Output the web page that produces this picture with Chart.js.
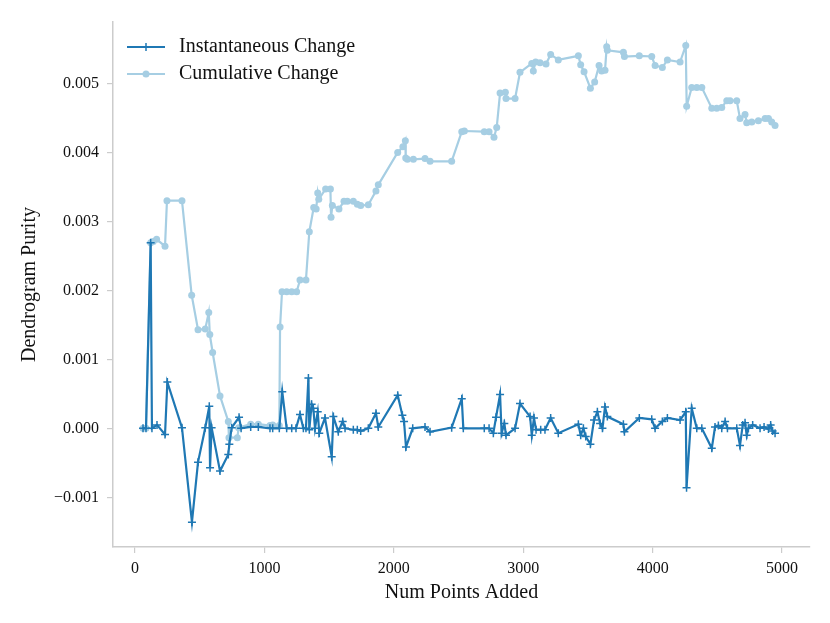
<!DOCTYPE html>
<html>
<head>
<meta charset="utf-8">
<script src="https://cdn.jsdelivr.net/npm/chart.js@4"></script>
<style>
  html, body { margin: 0; padding: 0; background: #fff; }
  #wrap { width: 830px; height: 623px; }
</style>
</head>
<body>
<div id="wrap"><canvas id="purityChart"></canvas></div>
<script>
// Instantaneous change in dendrogram purity
const instX = [62, 85, 121, 131, 170, 232, 250, 363, 440, 487, 543, 574, 580, 592, 657, 721, 729, 747, 804, 820,
  894, 953, 1043, 1064, 1115, 1138, 1172, 1211, 1244, 1275, 1301, 1321, 1340, 1347, 1365, 1378, 1391, 1412, 1424,
  1468, 1520, 1533, 1571, 1605, 1623, 1687, 1718, 1744, 1803, 1862, 1880, 2030, 2066, 2079, 2094, 2146, 2241, 2280,
  2447, 2525, 2537, 2699, 2736, 2769, 2790, 2821, 2833, 2854, 2867, 2937, 2975, 3053, 3066, 3083, 3099, 3135, 3168,
  3212, 3271, 3426, 3444, 3465, 3483, 3519, 3547, 3573, 3594, 3612, 3632, 3650, 3774, 3782, 3897, 3993, 4019, 4075,
  4114, 4212, 4256, 4262, 4302, 4341, 4380, 4457, 4482, 4508, 4534, 4560, 4578, 4650, 4675, 4696, 4714, 4727, 4740,
  4773, 4830, 4861, 4895, 4912, 4927, 4946];
const instY = [0, 0, 0.00269, 0, 0.00005, -0.00009, 0.00067, 0.00001, -0.00136, -0.00049, 0.00001, 0.00032, -0.00057, 0.00001, -0.00062, -0.00038, -0.00023, 0.00001, 0.00016, 0,
  0.00002, 0.00002, 0, 0, 0, 0.00053, 0, 0, 0, 0.0002, 0, 0, 0.00073, -0.00002, 0.00035, 0.00029, 0, 0.00024, -0.00007,
  0.00015, -0.00041, 0.00017, -0.00005, 0.0001, 0, -0.00002, -0.00002, -0.00004, 0, 0.00022, 0.00002, 0.00048, 0.00019, 0.0001, -0.00027, 0, 0.00002, -0.00005,
  0.00001, 0.00043, 0, 0, 0, -0.00007, 0.00016, 0.00049, -0.00007, 0.00007, -0.0001, 0, 0.00036, 0.00017, -0.0001, 0.00015, -0.00002, -0.00002, -0.00002,
  0.00015, -0.00007, 0.00006, -0.0001, 0, -0.00012, -0.00023, 0.00012, 0.00024, 0.00007, 0, 0.00031, 0.00017, 0.00006, -0.00005, 0.00015, 0.00013, 0, 0.0001,
  0.00015, 0.00012, 0.00024, -0.00086, 0.00029, 0, 0, -0.00029, 0.00002, 0.00004, 0, 0.0001, 0, 0, -0.00025, 0.00005, 0.00008, -0.0001, 0,
  0.00005, 0, 0.00002, -0.00001, 0.00005, -0.00004, -0.00007];

// Cumulative change in dendrogram purity
const cumX = [62, 85, 121, 141, 167, 232, 247, 363, 438, 487, 543, 570, 578, 600, 657, 721, 726, 791, 801, 894,
  953, 1043, 1064, 1115, 1121, 1136, 1172, 1211, 1249, 1275, 1321, 1347, 1381, 1400, 1412, 1420, 1473, 1510, 1515,
  1525, 1576, 1615, 1641, 1687, 1718, 1744, 1803, 1862, 1880, 2030, 2070, 2089, 2092, 2105, 2151, 2241, 2280, 2447,
  2525, 2545, 2699, 2736, 2774, 2795, 2821, 2862, 2867, 2937, 2975, 3066, 3078, 3096, 3130, 3176, 3212, 3271, 3426,
  3444, 3470, 3519, 3552, 3586, 3606, 3632, 3645, 3650, 3774, 3782, 3897, 3993, 4019, 4075, 4114, 4212, 4256, 4263,
  4302, 4341, 4380, 4457, 4495, 4534, 4573, 4598, 4650, 4675, 4714, 4727, 4766, 4817, 4869, 4895, 4920, 4946];
const cumY = [0, 0, 0.00269, 0.00271, 0.00274, 0.00264, 0.0033, 0.0033, 0.00193, 0.00143, 0.00144, 0.00168, 0.00136, 0.0011, 0.00047, 0.0001, -0.000135, -0.000135, 0.00001, 0.00006,
  0.00006, 0.00004, 0.00005, 0.00004, 0.00147, 0.00198, 0.00198, 0.00198, 0.00198, 0.00215, 0.00215, 0.00285, 0.0032, 0.00318, 0.00341, 0.00332, 0.00347, 0.00347, 0.00306,
  0.00323, 0.00318, 0.00329, 0.00329, 0.00329, 0.00325, 0.00323, 0.00324, 0.00344, 0.00353, 0.004, 0.00408, 0.00417, 0.00392, 0.0039, 0.0039, 0.00391, 0.00387, 0.00387,
  0.0043, 0.00431, 0.0043, 0.0043, 0.00422, 0.00436, 0.00486, 0.00487, 0.00478, 0.00478, 0.00516, 0.00529, 0.00518, 0.00531, 0.0053, 0.00528, 0.00542, 0.00534, 0.0054,
  0.00527, 0.00517, 0.00493, 0.00502, 0.00526, 0.00518, 0.00519, 0.00553, 0.00548, 0.00545, 0.00539, 0.0054, 0.00539, 0.00526, 0.00523, 0.00534, 0.00531, 0.00555, 0.00467,
  0.00494, 0.00494, 0.00494, 0.00464, 0.00464, 0.00465, 0.00475, 0.00475, 0.00475, 0.00449, 0.00455, 0.00443, 0.00444, 0.00446, 0.00449, 0.00449, 0.00444, 0.00439];

// Axis ticks
const xTicks = [0, 1000, 2000, 3000, 4000, 5000];
const yTicks = [-0.001, 0, 0.001, 0.002, 0.003, 0.004, 0.005];

const seriesNames = ['Instantaneous Change', 'Cumulative Change'];
const darkBlue = '#1f78b4';
const lightBlue = '#a6cee3';
const serif = "'Liberation Serif', 'DejaVu Serif', serif";

const toPoints = (xs, ys) => xs.map((x, i) => ({ x: x, y: ys[i] }));

// legend drawn inside the plot, top left
const innerLegend = {
    id: 'innerLegend',
    afterDraw(chart) {
        const ctx = chart.ctx;
        const items = [
            { text: seriesNames[0], color: darkBlue, style: 'cross', y: 47 },
            { text: seriesNames[1], color: lightBlue, style: 'circle', y: 74 }
        ];
        ctx.save();
        items.forEach(it => {
            ctx.strokeStyle = it.color;
            ctx.fillStyle = it.color;
            ctx.lineWidth = 2.2;
            ctx.beginPath();
            ctx.moveTo(127, it.y);
            ctx.lineTo(165, it.y);
            ctx.stroke();
            if (it.style === 'circle') {
                ctx.beginPath();
                ctx.arc(146, it.y, 3.5, 0, Math.PI * 2);
                ctx.fill();
            } else {
                ctx.lineWidth = 1.5;
                ctx.beginPath();
                ctx.moveTo(146, it.y - 4);
                ctx.lineTo(146, it.y + 4);
                ctx.stroke();
            }
            ctx.fillStyle = '#111';
            ctx.font = "20px " + serif;
            ctx.textBaseline = 'middle';
            ctx.textAlign = 'left';
            ctx.fillText(it.text, 179, it.y);
        });
        ctx.restore();
    }
};

const fmtY = v => (v < 0 ? '\u2212' : '') + Math.abs(v).toFixed(3);

const ctx = document.getElementById('purityChart').getContext('2d');
const purityChart = new Chart(ctx, {
    type: 'line',
    data: {
        datasets: [{
            label: seriesNames[0],
            data: toPoints(instX, instY),
            borderColor: darkBlue,
            backgroundColor: darkBlue,
            borderWidth: 2.2,
            pointStyle: 'cross',
            pointRadius: 4,
            pointBorderWidth: 1.5,
            tension: 0,
            order: 1
        }, {
            label: seriesNames[1],
            data: toPoints(cumX, cumY),
            borderColor: lightBlue,
            backgroundColor: lightBlue,
            borderWidth: 2.2,
            pointStyle: 'circle',
            pointRadius: 3.5,
            pointBorderWidth: 0,
            tension: 0,
            order: 2
        }]
    },
    options: {
        responsive: true,
        maintainAspectRatio: false,
        animation: false,
        layout: { padding: { left: 0, right: 20, top: 22, bottom: 0 } },
        scales: {
            x: {
                type: 'linear',
                min: -170,
                max: 5216,
                afterBuildTicks: s => { s.ticks = xTicks.map(v => ({ value: v })); },
                afterFit: s => { s.height = 76; },
                grid: { drawOnChartArea: false, drawTicks: true, tickLength: 6, color: '#cccccc', lineWidth: 1.2 },
                border: { color: '#cccccc', width: 1.5 },
                ticks: { color: '#111', font: { family: serif, size: 16 }, padding: 6, maxRotation: 0, callback: v => String(v) },
                title: { display: true, text: 'Num Points Added', color: '#111', font: { family: serif, size: 20 }, padding: { top: 4, bottom: 18 } }
            },
            y: {
                type: 'linear',
                min: -0.00172,
                max: 0.00589,
                afterBuildTicks: s => { s.ticks = yTicks.map(v => ({ value: v })); },
                afterFit: s => { s.width = 113; },
                grid: { drawOnChartArea: false, drawTicks: true, tickLength: 6, color: '#cccccc', lineWidth: 1.2 },
                border: { color: '#cccccc', width: 1.5 },
                ticks: { color: '#111', font: { family: serif, size: 16 }, padding: 8, callback: v => fmtY(v) },
                title: { display: true, text: 'Dendrogram Purity', color: '#111', font: { family: serif, size: 20 }, padding: { top: 18, bottom: 4 } }
            }
        },
        plugins: {
            legend: { display: false },
            tooltip: { enabled: false }
        }
    },
    plugins: [innerLegend]
});
</script>
</body>
</html>
